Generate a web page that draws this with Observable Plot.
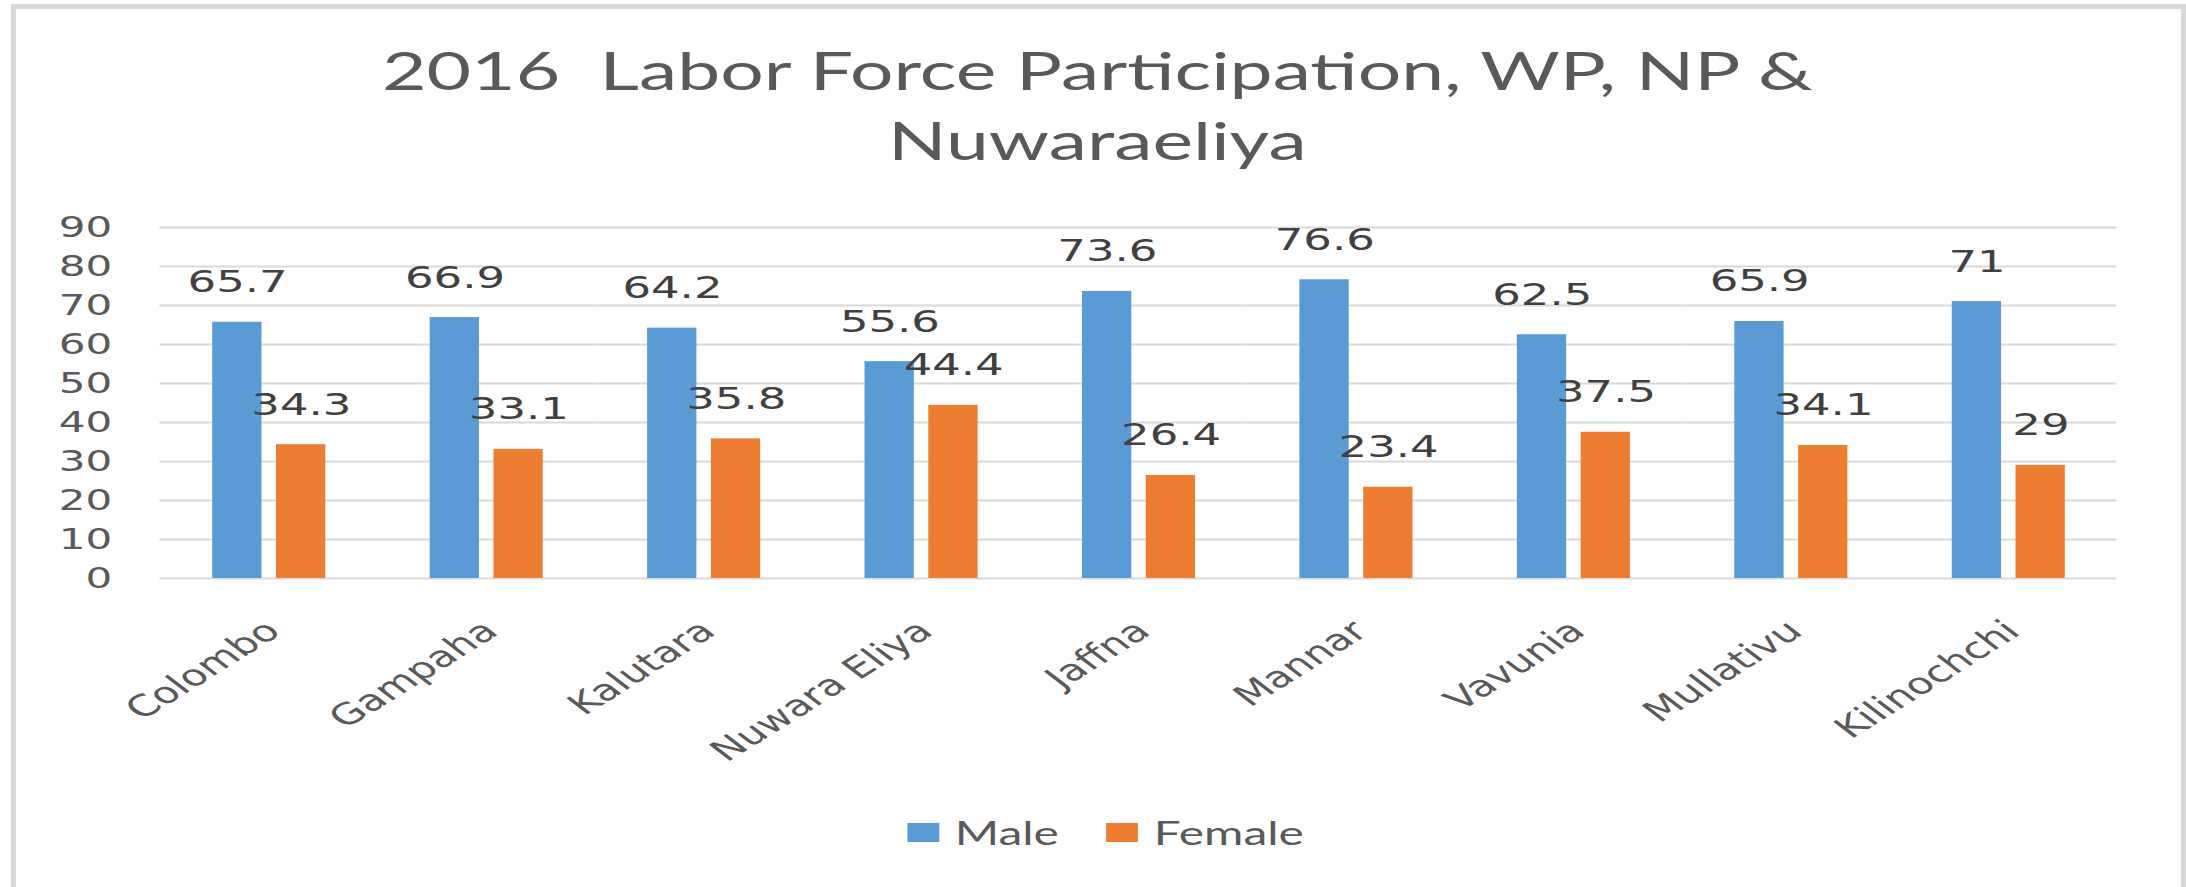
<!DOCTYPE html>
<html><head><meta charset="utf-8">
<script src="https://cdn.jsdelivr.net/npm/d3@7"></script>
<script src="https://cdn.jsdelivr.net/npm/@observablehq/plot@0.6"></script>
<style>
html,body{margin:0;padding:0;background:#fff;overflow:hidden;width:2186px;height:887px;}
#frame{position:absolute;left:11px;top:4px;width:2175px;height:900px;box-sizing:border-box;border:5px solid #d9d9d9;border-bottom:none;}
#wrap{position:absolute;left:0;top:0;width:1508px;transform:scaleX(1.4496);transform-origin:0 0;}
#title{height:180px;box-sizing:border-box;padding-top:35px;padding-left:6px;text-align:center;font-family:Lato,sans-serif;font-size:53px;line-height:70px;color:#595959;white-space:pre;}
#chart svg{display:block;}
#legend{height:97px;box-sizing:border-box;padding-top:26px;padding-left:626px;}
#legend .row{display:flex;align-items:center;height:32px;font-family:Lato,sans-serif;font-size:33px;color:#595959;white-space:nowrap;}
#legend .sw{width:22px;height:19px;margin-right:10.6px;flex:none;}
#legend .item{display:flex;align-items:center;margin-right:33px;}
</style>
</head><body>
<div id="frame"></div>
<div id="wrap">
  <div id="title"></div>
  <div id="chart"></div>
  <div id="legend"><div class="row"></div></div>
</div>
<script>
const titleLines = ["2016  Labor Force Participation, WP, NP &", "Nuwaraeliya"];
const districts = ["Colombo","Gampaha","Kalutara","Nuwara Eliya","Jaffna","Mannar","Vavunia","Mullativu","Kilinochchi"];
const male = [65.7, 66.9, 64.2, 55.6, 73.6, 76.6, 62.5, 65.9, 71];
const female = [34.3, 33.1, 35.8, 44.4, 26.4, 23.4, 37.5, 34.1, 29];
const series = ["Male", "Female"];
const colors = ["#5b9bd5", "#ed7d31"];
const yTicks = [0, 10, 20, 30, 40, 50, 60, 70, 80, 90];

const data = districts.flatMap((d, i) => [
  {district: d, sex: series[0], value: male[i]},
  {district: d, sex: series[1], value: female[i]}
]);

document.getElementById("title").textContent = titleLines.join("\n");

const chart = Plot.plot({
  width: 1508,
  height: 610,
  marginLeft: 107.6,
  marginRight: 46.2,
  marginTop: 47,
  marginBottom: 212,
  style: {fontFamily: "DejaVu Sans", background: "transparent"},
  fx: {domain: districts, padding: 0},
  x: {domain: series, paddingInner: 0.234, paddingOuter: 0.82, axis: null},
  y: {domain: [0, 90]},
  color: {domain: series, range: colors},
  marks: [
    Plot.gridY({ticks: yTicks, stroke: "#d9d9d9", strokeOpacity: 1, strokeWidth: 2}),
    Plot.barY(data, {fx: "district", x: "sex", y: "value", fill: "sex"}),
    Plot.text(data, {fx: "district", x: "sex", y: "value", text: d => String(d.value), dy: -40, fontSize: 31, fill: "#404040"}),
    Plot.axisY({ticks: yTicks, tickSize: 0, tickPadding: 33, fontSize: 29, fill: "#595959", label: null}),
    Plot.axisFx({anchor: "bottom", tickSize: 0, tickPadding: 48, tickRotate: -42, textAnchor: "end", lineAnchor: "middle", fontSize: 29.5, fill: "#595959", dx: 3, label: null})
  ]
});
document.getElementById("chart").appendChild(chart);

const row = document.querySelector("#legend .row");
series.forEach((s, i) => {
  const item = document.createElement("div");
  item.className = "item";
  const sw = document.createElement("div");
  sw.className = "sw";
  sw.style.background = colors[i];
  const t = document.createElement("span");
  t.textContent = s;
  item.appendChild(sw);
  item.appendChild(t);
  row.appendChild(item);
});
</script>
</body></html>
